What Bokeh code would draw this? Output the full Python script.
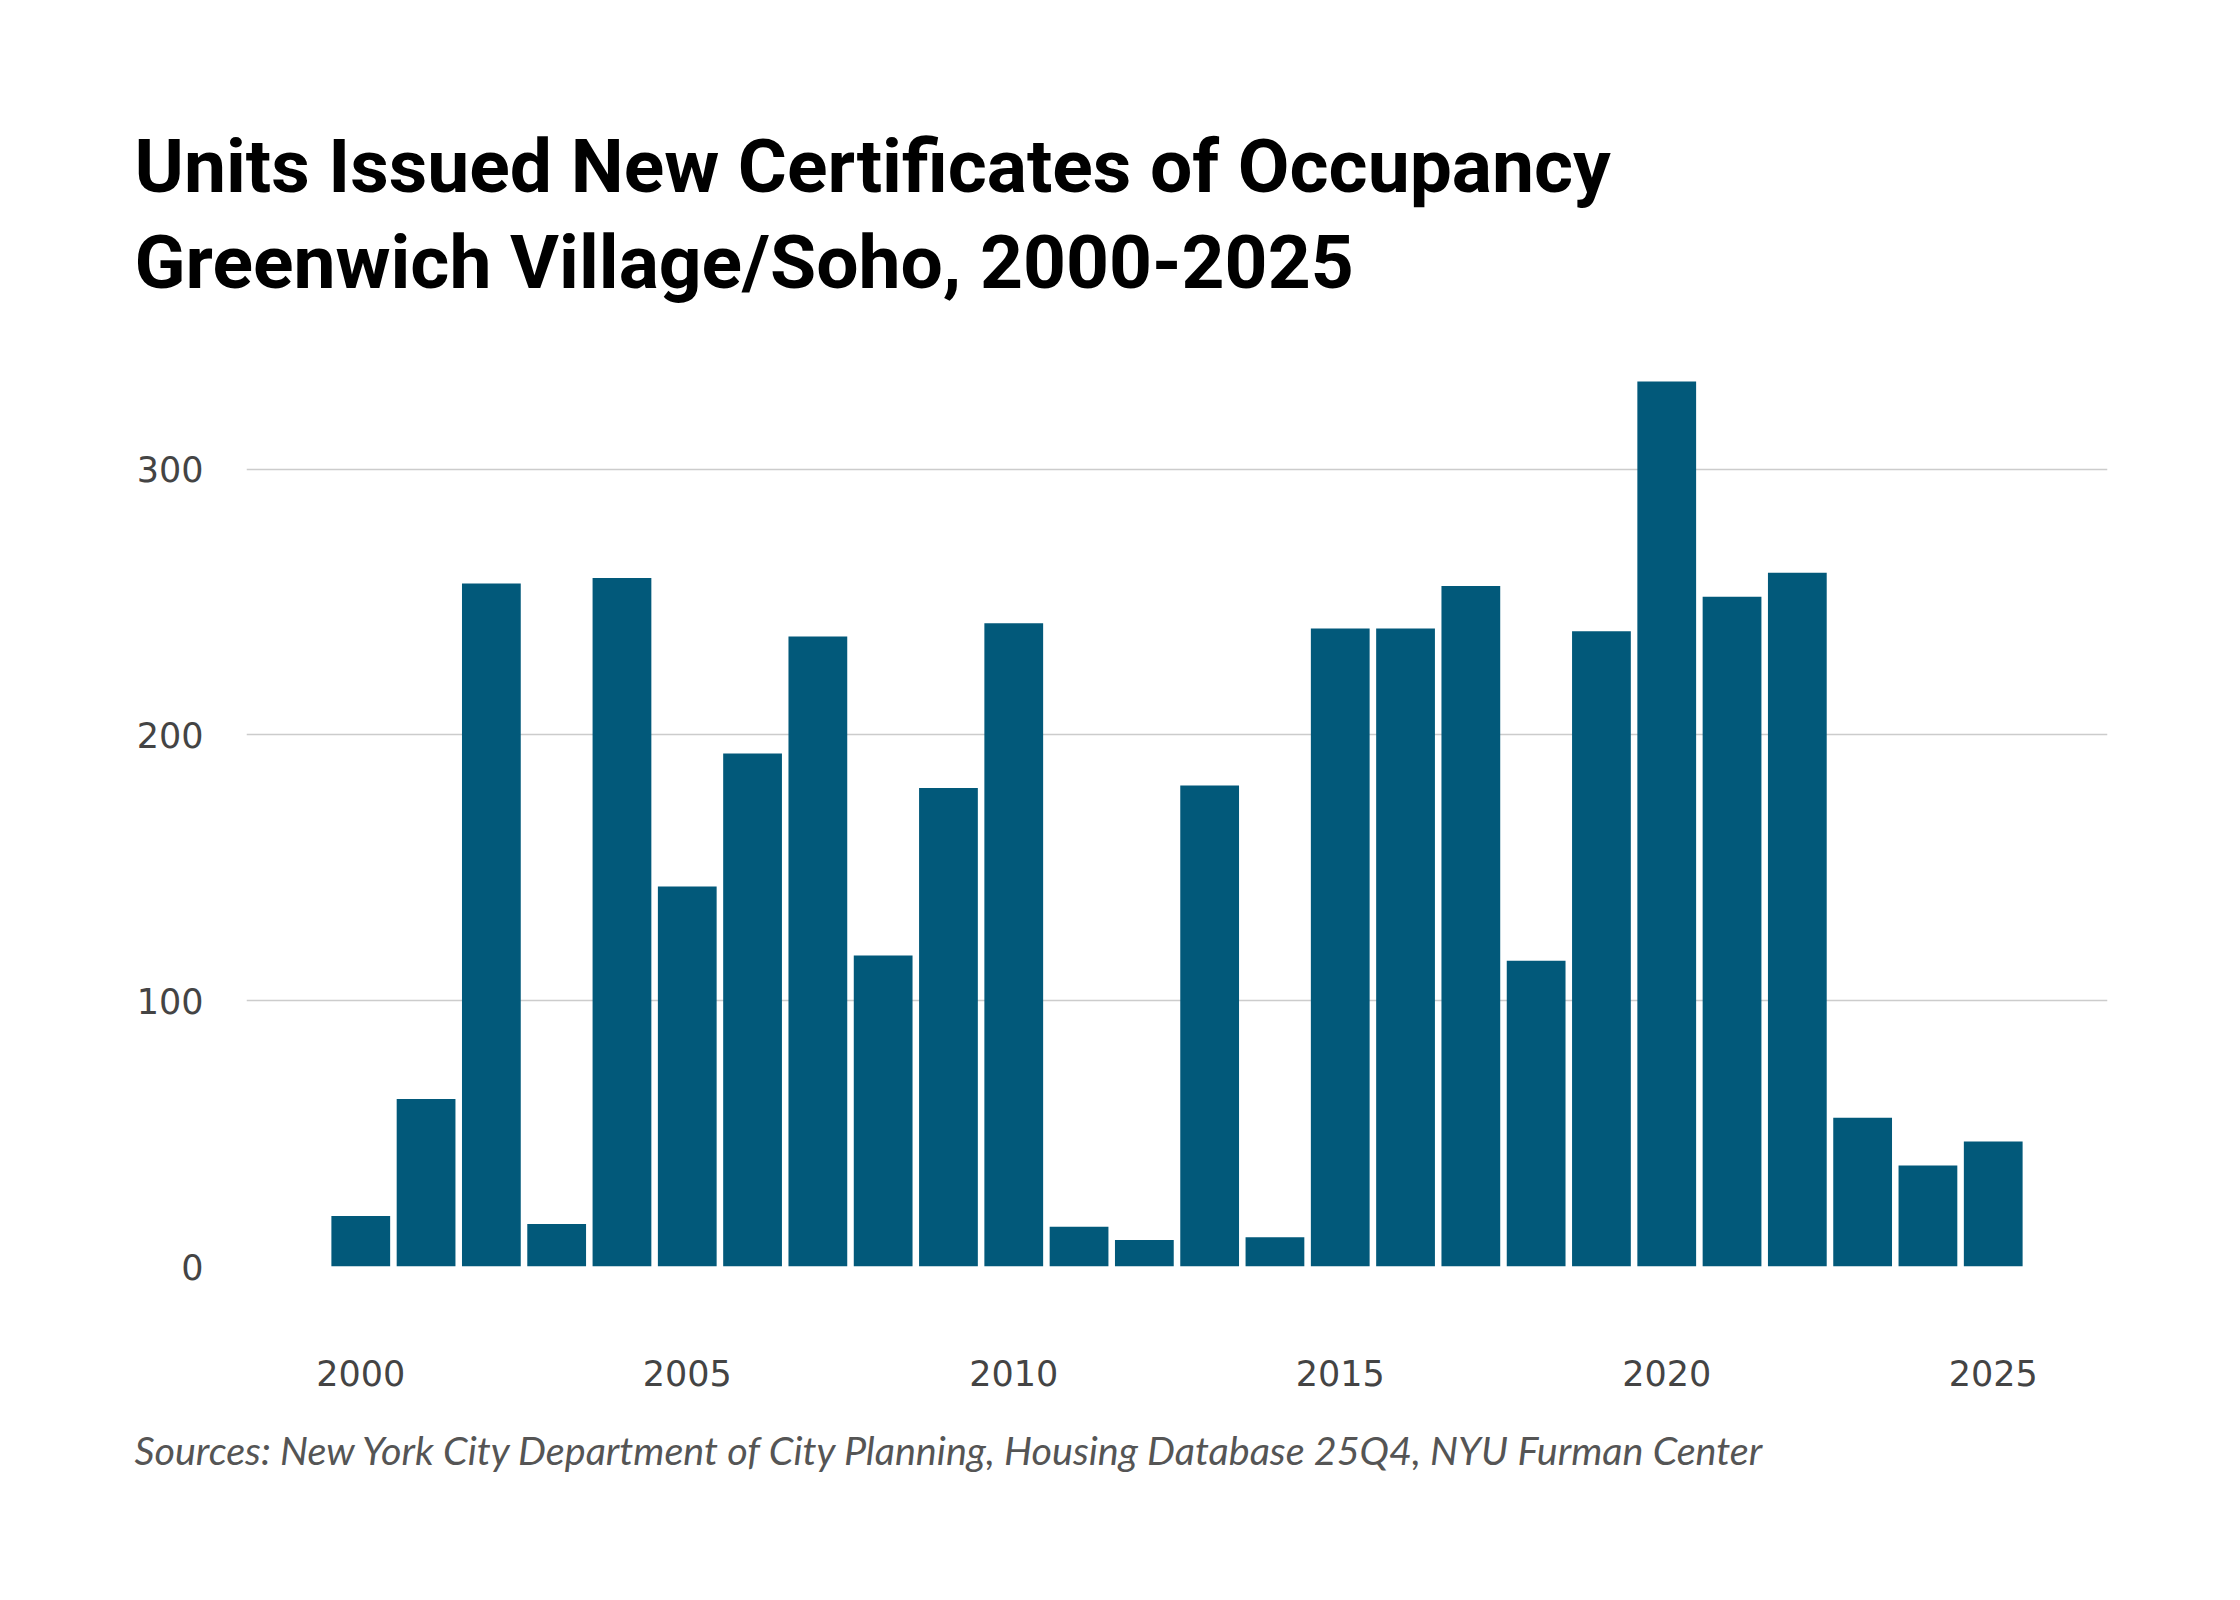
from bokeh.plotting import figure
from bokeh.models import Range1d, FixedTicker, Title
from bokeh.embed import file_html
from bokeh.resources import INLINE

years = list(range(2000, 2026))
units = [19, 63, 257, 16, 259, 143, 193, 237, 117, 180, 242, 15, 10, 181, 11,
         240, 240, 256, 115, 239, 333, 252, 261, 56, 38, 47]
x_ticks = [2000, 2005, 2010, 2015, 2020, 2025]
y_ticks = [0, 100, 200, 300]
title_line1 = "Units Issued New Certificates of Occupancy"
title_line2 = "Greenwich Village/Soho, 2000-2025"
source_text = "Sources: New York City Department of City Planning, Housing Database 25Q4, NYU Furman Center"

BAR = "#02597a"
TICK = "#444444"

p = figure(width=2224, height=1584,
           x_range=Range1d(1998.25, 2026.75), y_range=Range1d(0, 345),
           output_backend="svg", toolbar_location=None,
           min_border_left=246, min_border_right=117,
           min_border_top=349, min_border_bottom=318)
try:
    p.title = None
except Exception:
    p.title.text = ""
p.outline_line_color = None

p.vbar(x=years, top=units, width=0.9, color=BAR, line_color=None)

p.xaxis.ticker = FixedTicker(ticks=x_ticks)
p.yaxis.ticker = FixedTicker(ticks=y_ticks)
for ax in (p.xaxis, p.yaxis):
    ax.axis_line_color = None
    ax.major_tick_line_color = None
    ax.minor_tick_line_color = None
    ax.major_tick_in = 0
    ax.major_tick_out = 0
    ax.major_label_text_font = "DejaVu Sans"
    ax.major_label_text_font_size = "35px"
    ax.major_label_text_color = TICK
p.xaxis.major_label_standoff = 93
p.yaxis.major_label_standoff = 43

p.xgrid.visible = False
p.ygrid.ticker = FixedTicker(ticks=y_ticks)
p.ygrid.grid_line_color = "#cccccc"
p.ygrid.grid_line_width = 1.5

# title block: spacer nearest the frame, then line 2, then line 1
spacer = Title(text=" ", text_font_size="1px", standoff=38, text_color="white")
t2 = Title(text=title_line2, align="left", offset=-112, standoff=6,
           text_font="Roboto", text_font_style="bold", text_font_size="75px",
           text_color="#000000", vertical_align="bottom")
t1 = Title(text=title_line1, align="left", offset=-112, standoff=6,
           text_font="Roboto", text_font_style="bold", text_font_size="75px",
           text_color="#000000", vertical_align="bottom")
p.add_layout(spacer, "above")
p.add_layout(t2, "above")
p.add_layout(t1, "above")

src = Title(text=source_text, align="left", offset=-112, standoff=75,
            text_font="Lato", text_font_style="italic", text_font_size="39.5px",
            text_color="#555555", vertical_align="top")
p.add_layout(src, "below")

open("out.html", "w").write(file_html(p, INLINE))
